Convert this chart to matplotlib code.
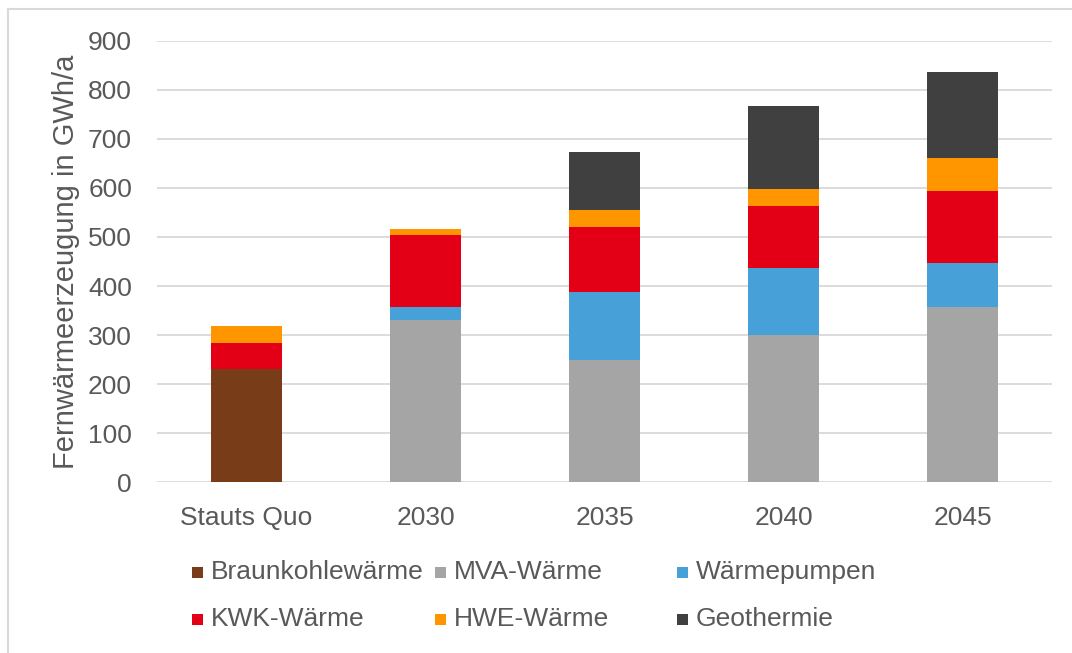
import matplotlib
matplotlib.use("Agg")
import matplotlib.pyplot as plt
from matplotlib.patches import Rectangle
from matplotlib.lines import Line2D
import numpy as np

plt.rcParams['font.family'] = ['Liberation Sans', 'DejaVu Sans']

categories = ["Stauts Quo", "2030", "2035", "2040", "2045"]
series_names = ["Braunkohlewärme", "MVA-Wärme", "Wärmepumpen",
                "KWK-Wärme", "HWE-Wärme", "Geothermie"]
braunkohle = [230, 0, 0, 0, 0]
mva = [0, 330, 250, 300, 358]
waermepumpen = [0, 27, 138, 137, 88]
kwk = [53, 148, 132, 126, 147]
hwe = [35, 12, 34, 35, 67]
geothermie = [0, 0, 119, 169, 177]
colors = ["#783C18", "#A5A5A5", "#47A0D8", "#E30016", "#FF9600", "#404040"]
yticks = [0, 100, 200, 300, 400, 500, 600, 700, 800, 900]

series = [braunkohle, mva, waermepumpen, kwk, hwe, geothermie]
text_color = "#595959"
fs_ticks = 19
fs_legend = 19
fs_label = 21

fig = plt.figure(figsize=(10.72, 6.53), dpi=100)
ax = fig.add_axes([157 / 1072, 1 - 482.3 / 653, (1052 - 157) / 1072, (482.3 - 40.7) / 653])

x = np.arange(len(categories))
bottom = np.zeros(len(categories))
for vals, col, name in zip(series, colors, series_names):
    v = np.array(vals, dtype=float)
    ax.bar(x, v, width=0.4, bottom=bottom, color=col, label=name, zorder=3)
    bottom += v

ax.set_xlim(-0.5, len(categories) - 0.5)
ax.set_ylim(0, 900)
ax.set_yticks(yticks)
ax.set_yticklabels([str(t) for t in yticks])
ax.set_xticks(x)
ax.set_xticklabels(categories)
ax.yaxis.grid(True, color="#D9D9D9", linewidth=1.3, zorder=0)
ax.set_axisbelow(True)
for s in ax.spines.values():
    s.set_visible(False)
ax.tick_params(axis="both", length=0, labelsize=fs_ticks, labelcolor=text_color)
ax.tick_params(axis="y", pad=18)
ax.tick_params(axis="x", pad=17)
ax.set_ylabel("Fernwärmeerzeugung in GWh/a", fontsize=fs_label, color=text_color)
ax.yaxis.set_label_coords(-(157 - 80) / (1052 - 157), 0.5)

# Outer frame (top and left edges)
fig.add_artist(Line2D([8 / 1072, 8 / 1072], [0, 1 - 9 / 653], transform=fig.transFigure,
                      color="#D9D9D9", linewidth=1.5))
fig.add_artist(Line2D([8 / 1072, 1], [1 - 9 / 653, 1 - 9 / 653], transform=fig.transFigure,
                      color="#D9D9D9", linewidth=1.5))

# Legend laid out in a 3 x 2 grid
col_x = [192, 435, 677]
row_y = [572, 619]
for i, (name, col) in enumerate(zip(series_names, colors)):
    r, c = divmod(i, 3)
    mx, my = col_x[c], row_y[r]
    fig.add_artist(Rectangle((mx / 1072, 1 - (my + 5.5) / 653), 11 / 1072, 11 / 653,
                             transform=fig.transFigure, facecolor=col, edgecolor="none"))
    fig.text((mx + 19) / 1072, 1 - my / 653, name, fontsize=fs_legend, color=text_color,
             va="center", ha="left")

fig.savefig("out.png", dpi=100)
